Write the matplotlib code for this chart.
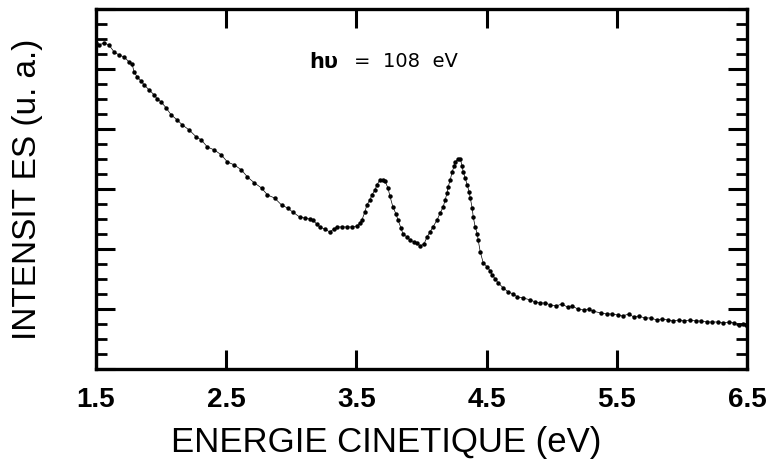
import numpy as np
import matplotlib
matplotlib.use("Agg")
import matplotlib.pyplot as plt
from matplotlib.ticker import MultipleLocator, FixedLocator

# spectrum (kinetic energy in eV, intensity in a.u.)
energy = [1.500, 1.523, 1.562, 1.600, 1.639, 1.677, 1.716, 1.754, 1.777, 1.793,
          1.816, 1.847, 1.870, 1.908, 1.947, 1.970, 2.001, 2.039, 2.078, 2.124,
          2.163, 2.216, 2.270, 2.309, 2.355, 2.409, 2.463, 2.509, 2.563, 2.617,
          2.663, 2.717, 2.771, 2.817, 2.871, 2.925, 2.971, 3.010, 3.064, 3.102,
          3.141, 3.164, 3.195, 3.218, 3.257, 3.295, 3.326, 3.349, 3.388, 3.426,
          3.465, 3.503, 3.526, 3.542, 3.565, 3.580, 3.603, 3.619, 3.642, 3.657,
          3.680, 3.703, 3.719, 3.742, 3.757, 3.780, 3.804, 3.819, 3.842, 3.857,
          3.888, 3.911, 3.942, 3.965, 3.988, 4.019, 4.042, 4.065, 4.088, 4.119,
          4.143, 4.166, 4.181, 4.196, 4.204, 4.220, 4.235, 4.250, 4.258, 4.281,
          4.297, 4.312, 4.320, 4.335, 4.350, 4.366, 4.374, 4.389, 4.397, 4.412,
          4.428, 4.435, 4.451, 4.474, 4.505, 4.528, 4.543, 4.566, 4.589, 4.628,
          4.666, 4.705, 4.736, 4.782, 4.836, 4.874, 4.913, 4.951, 4.990, 5.036,
          5.075, 5.121, 5.159, 5.198, 5.244, 5.283, 5.314, 5.375, 5.421, 5.460,
          5.506, 5.545, 5.591, 5.629, 5.668, 5.714, 5.760, 5.807, 5.845, 5.891,
          5.930, 5.976, 6.015, 6.061, 6.107, 6.146, 6.192, 6.230, 6.277, 6.315,
          6.361, 6.400, 6.438, 6.469, 6.492]
intensity = [5.433, 5.400, 5.433, 5.400, 5.283, 5.233, 5.200, 5.117, 5.083, 4.950,
             4.867, 4.800, 4.733, 4.650, 4.567, 4.500, 4.450, 4.350, 4.233, 4.150,
             4.067, 3.983, 3.867, 3.817, 3.700, 3.650, 3.567, 3.450, 3.400, 3.317,
             3.200, 3.100, 3.017, 2.900, 2.850, 2.733, 2.683, 2.617, 2.533, 2.517,
             2.500, 2.483, 2.417, 2.367, 2.333, 2.283, 2.333, 2.367, 2.367, 2.367,
             2.367, 2.383, 2.433, 2.483, 2.617, 2.733, 2.817, 2.900, 2.983, 3.067,
             3.150, 3.150, 3.133, 3.017, 2.883, 2.700, 2.583, 2.483, 2.350, 2.250,
             2.200, 2.150, 2.117, 2.100, 2.050, 2.083, 2.200, 2.283, 2.367, 2.483,
             2.600, 2.700, 2.817, 2.933, 3.033, 3.150, 3.283, 3.383, 3.450, 3.500,
             3.500, 3.383, 3.283, 3.183, 3.067, 2.950, 2.850, 2.683, 2.533, 2.367,
             2.250, 2.150, 1.950, 1.767, 1.700, 1.633, 1.567, 1.500, 1.433, 1.350,
             1.283, 1.250, 1.200, 1.183, 1.150, 1.117, 1.100, 1.100, 1.067, 1.050,
             1.083, 1.033, 1.050, 1.000, 0.983, 1.000, 0.967, 0.933, 0.917, 0.917,
             0.900, 0.883, 0.917, 0.867, 0.883, 0.850, 0.850, 0.817, 0.833, 0.817,
             0.800, 0.817, 0.800, 0.817, 0.800, 0.800, 0.783, 0.783, 0.783, 0.767,
             0.783, 0.767, 0.733, 0.750, 0.733]

xticks = [1.5, 2.5, 3.5, 4.5, 5.5, 6.5]
xtick_labels = ["1.5", "2.5", "3.5", "4.5", "5.5", "6.5"]

plt.rcParams['font.family'] = ['Liberation Sans', 'DejaVu Sans']

fig = plt.figure(figsize=(7.71, 4.61), dpi=100)
ax = fig.add_axes([0.1245, 0.1996, 0.8445, 0.781])

ax.plot(energy, intensity, color='black', lw=0.5, marker='o', ms=3.2, mew=0)

ax.set_xlim(1.5, 6.5)
ax.set_ylim(0, 6)

ax.xaxis.set_major_locator(FixedLocator(xticks))
ax.set_xticklabels(xtick_labels, fontsize=20, fontweight='bold')
ax.yaxis.set_major_locator(MultipleLocator(1))
ax.yaxis.set_minor_locator(MultipleLocator(0.25))
ax.set_yticklabels([])

ax.tick_params(axis='both', which='major', direction='in', length=13.5, width=2.2,
               top=True, right=True, pad=13)
ax.tick_params(axis='y', which='minor', direction='in', length=8, width=2.0,
               left=True, right=True)
for sp in ax.spines.values():
    sp.set_linewidth(2.4)

ax.set_xlabel("ENERGIE CINETIQUE (eV)", fontsize=25, va='center')
ax.xaxis.set_label_coords(0.445, -0.203)
ax.set_ylabel("INTENSIT ES (u. a.)", fontsize=24, va='center')
ax.yaxis.set_label_coords(-0.105, 0.5)

ax.text(3.14, 5.12, "h\u03c5", fontsize=15, fontweight='bold', family='DejaVu Sans',
        va='center', ha='left')
ax.text(3.48, 5.12, "=  108  eV", fontsize=14, family='DejaVu Sans',
        va='center', ha='left')

fig.savefig("out.png", dpi=100)
